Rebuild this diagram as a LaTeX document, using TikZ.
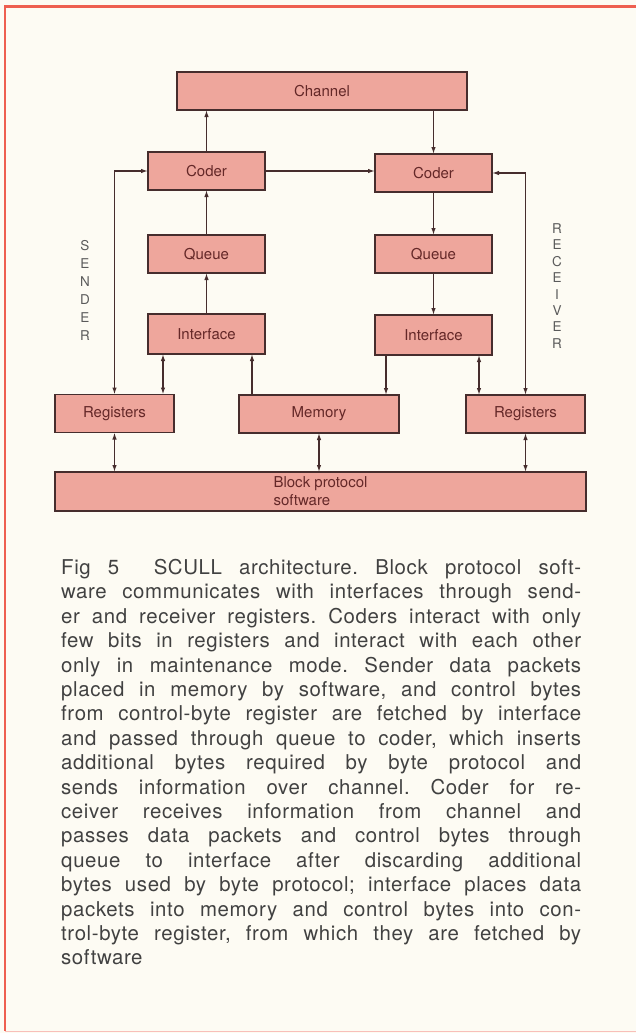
\documentclass[tikz,border=0pt]{standalone}
\usepackage{fontspec}
\setmainfont{TeX Gyre Heros}
\newfontfamily\capfont[LetterSpace=3]{TeX Gyre Heros}
\usetikzlibrary{arrows.meta}
\definecolor{bg}{RGB}{253,251,243}
\definecolor{boxfill}{RGB}{238,166,156}
\definecolor{boxline}{RGB}{70,45,45}
\definecolor{boxtext}{RGB}{100,40,40}
\definecolor{captext}{RGB}{65,65,65}
\definecolor{frame}{RGB}{238,95,80}
\definecolor{lbl}{RGB}{90,90,90}
\tikzset{
  blk/.style={draw=boxline, line width=1.6pt, fill=boxfill, inner sep=0pt, outer sep=0pt,
    minimum width=117pt, minimum height=38pt, text=boxtext, font=\fontsize{15}{18}\selectfont},
  arr/.style={draw=boxline, line width=1.3pt, -{Latex[length=7pt,width=4.5pt]}},
  dbl/.style={draw=boxline, line width=1.3pt, {Latex[length=7pt,width=4.5pt]}-{Latex[length=7pt,width=4.5pt]}},
  side/.style={align=center, text=lbl, inner sep=0pt, font=\fontsize{13.5}{18}\selectfont},
}
\begin{document}
\begin{tikzpicture}[x=1pt,y=-1pt]
\fill[bg] (0,0) rectangle (636,1033);
\useasboundingbox (0,0) rectangle (636,1033);
% frame
\draw[frame, line width=3pt] (4,7) -- (636,7);
\draw[frame, line width=2.2pt] (5,6) -- (5,1031);
\draw[frame!40, line width=1pt] (5,1031) -- (636,1031);

% boxes
\node[blk, minimum width=290pt] (ch) at (322,91) {Channel};
\node[blk] (cl) at (206.5,171) {Coder};
\node[blk] (cr) at (433.5,173) {Coder};
\node[blk] (ql) at (206.5,254) {Queue};
\node[blk] (qr) at (433.5,254) {Queue};
\node[blk, minimum height=40pt] (il) at (206.5,334) {Interface};
\node[blk, minimum height=40pt] (ir) at (433.5,335) {Interface};
\node[blk, minimum width=119pt] (rl) at (114.5,413.5) {Registers};
\node[blk, minimum width=160pt] (m) at (319,414) {Memory};
\node[blk, minimum width=119pt] (rr) at (525.5,414) {Registers};
\node[blk, minimum width=531pt, minimum height=39pt, align=left] (b) at (320.5,491.5) {Block protocol\\software};

% side labels
\node[side] (snd) at (85,290) {S\\E\\N\\D\\E\\R};
\node[side, font=\fontsize{13.5}{16.4}\selectfont] (rcv) at (557,286) {R\\E\\C\\E\\I\\V\\E\\R};

% connectors
\draw[arr] (cl.north) -- (cl.north |- ch.south);
\draw[arr] (cr.north |- ch.south) -- (cr.north);
\draw[arr] (cl.east) -- (cl.east -| cr.west);
\draw[arr] (ql.north) -- (cl.south);
\draw[arr] (il.north) -- (ql.south);
\draw[arr] (cr.south) -- (qr.north);
\draw[arr] (qr.south) -- (ir.north);

\coordinate (a1) at ([xshift=-43.5pt]il.south);
\coordinate (a2) at ([xshift=45.5pt]il.south);
\coordinate (a3) at ([xshift=-47.5pt]ir.south);
\coordinate (a4) at ([xshift=45.5pt]ir.south);
\draw[dbl] (a1) -- (a1 |- rl.north);
\draw[arr] (a2 |- m.north) -- (a2);
\draw[arr] (a3) -- (a3 |- m.north);
\draw[dbl] (a4) -- (a4 |- rr.north);

\draw[dbl] (rl.north) -- (rl.north |- cl.west) -- (cl.west);
\draw[dbl] (rr.north) -- (rr.north |- cr.east) -- (cr.east);

\draw[dbl] (rl.south) -- (rl.south |- b.north);
\draw[dbl] (m.south) -- (m.south |- b.north);
\draw[dbl] (rr.south) -- (rr.south |- b.north);

% caption
\node[anchor=north west, text width=520pt, inner sep=0pt, align=justify, text=captext,
      font=\capfont\fontsize{20.4}{24.4}\selectfont] (cap) at (61,559)
{\frenchspacing\hyphenpenalty=10000\relax
Fig 5\ \ SCULL architecture. Block protocol soft-\linebreak
ware communicates with interfaces through send-\linebreak
er and receiver registers. Coders interact with only\linebreak
few bits in registers and interact with each other\linebreak
only in maintenance mode. Sender data packets\linebreak
placed in memory by software, and control bytes\linebreak
from control-byte register are fetched by interface\linebreak
and passed through queue to coder, which inserts\linebreak
additional bytes required by byte protocol and\linebreak
sends information over channel. Coder for re-\linebreak
ceiver receives information from channel and\linebreak
passes data packets and control bytes through\linebreak
queue to interface after discarding additional\linebreak
bytes used by byte protocol; interface places data\linebreak
packets into memory and control bytes into con-\linebreak
trol-byte register, from which they are fetched by\linebreak
software};
\end{tikzpicture}
\end{document}
